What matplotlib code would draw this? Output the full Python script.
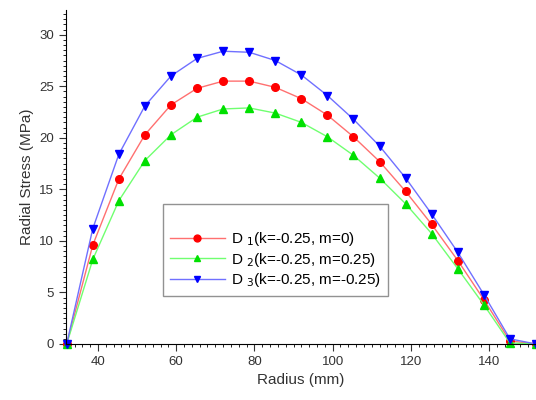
import matplotlib

matplotlib.use("Agg")
import matplotlib.pyplot as plt
from matplotlib.ticker import MultipleLocator

plt.rcParams["font.family"] = ["Liberation Sans", "DejaVu Sans"]

radius = [32.0, 38.67, 45.33, 52.0, 58.67, 65.33, 72.0, 78.67, 85.33, 92.0,
          98.67, 105.33, 112.0, 118.67, 125.33, 132.0, 138.67, 145.33, 152.0]

stress_d1 = [0.0, 9.6, 16.0, 20.3, 23.2, 24.8, 25.5, 25.5, 24.9, 23.8,
             22.2, 20.1, 17.7, 14.8, 11.6, 8.1, 4.3, 0.3, 0.0]
stress_d2 = [0.0, 8.2, 13.9, 17.8, 20.3, 22.0, 22.8, 22.9, 22.4, 21.5,
             20.1, 18.3, 16.1, 13.6, 10.7, 7.3, 3.8, 0.1, 0.0]
stress_d3 = [0.0, 11.2, 18.4, 23.1, 26.0, 27.7, 28.4, 28.3, 27.5, 26.1,
             24.1, 21.8, 19.2, 16.1, 12.6, 8.9, 4.8, 0.5, 0.0]

labels = ["D $_1$(k=-0.25, m=0)", "D $_2$(k=-0.25, m=0.25)", "D $_3$(k=-0.25, m=-0.25)"]

fig = plt.figure(figsize=(5.36, 4.0), dpi=100)
ax = fig.add_axes([0.123, 0.14, 0.877, 0.835])

series = [
    (stress_d1, "#ff7070", "#ff0000", "o"),
    (stress_d2, "#70ff70", "#00e000", "^"),
    (stress_d3, "#7070ff", "#0000ff", "v"),
]
for (values, line_color, marker_color, marker), label in zip(series, labels):
    ax.plot(radius, values, color=line_color, linewidth=1.0, marker=marker,
            markersize=5.5, markerfacecolor=marker_color, markeredgecolor=marker_color,
            label=label, clip_on=False)

ax.set_xlim(31.8, 152)
ax.set_ylim(0, 32.4)
ax.xaxis.set_major_locator(MultipleLocator(20))
ax.xaxis.set_minor_locator(MultipleLocator(2))
ax.yaxis.set_major_locator(MultipleLocator(5))
ax.yaxis.set_minor_locator(MultipleLocator(0.5))
ax.tick_params(which="major", direction="out", length=5, labelsize=9.5, colors="#333333")
ax.tick_params(which="minor", direction="out", length=2.5)
ax.spines["top"].set_visible(False)
ax.spines["right"].set_visible(False)

ax.set_xlabel("Radius (mm)", fontsize=11, color="#333333")
ax.set_ylabel("Radial Stress (MPa)", fontsize=11, color="#333333")

leg = ax.legend(loc="lower left", bbox_to_anchor=(0.206, 0.144), borderaxespad=0,
                title=" ", title_fontsize=14, fontsize=11, frameon=True, fancybox=False,
                handlelength=3.6, handletextpad=0.4, borderpad=0.45, labelspacing=0.15,
                markerscale=0.9)
leg.get_frame().set_edgecolor("#777777")
leg.get_frame().set_linewidth(1.0)

fig.savefig("out.png", dpi=100)
plt.close(fig)
